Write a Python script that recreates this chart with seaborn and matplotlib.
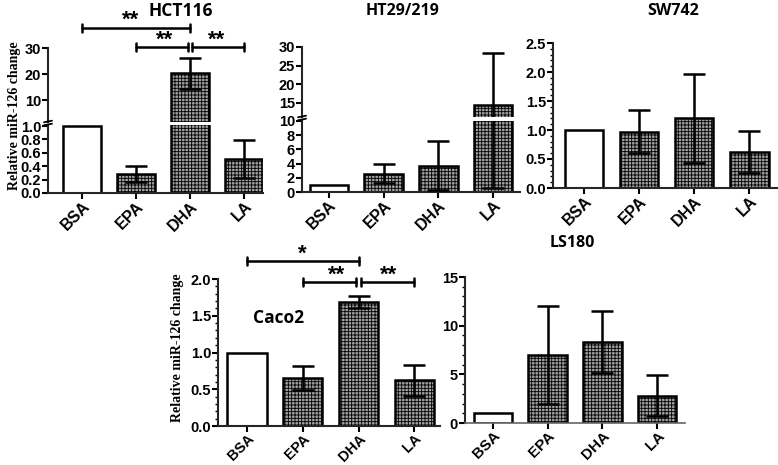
import matplotlib
matplotlib.use("Agg")
import matplotlib.pyplot as plt
import matplotlib.transforms as mtrans
from matplotlib.ticker import MultipleLocator, FixedLocator
import seaborn as sns
import pandas as pd
import numpy as np

# ---------------- data ----------------
groups = ["BSA", "EPA", "DHA", "LA"]

hct116_mean = [1.0, 0.29, 20.2, 0.51]
hct116_sd = [0.0, 0.12, 5.9, 0.28]

ht29_mean = [1.0, 2.6, 3.7, 14.5]
ht29_sd = [0.0, 1.3, 3.45, 13.9]

sw742_mean = [1.0, 0.97, 1.2, 0.62]
sw742_sd = [0.0, 0.37, 0.77, 0.37]

caco2_mean = [1.0, 0.65, 1.69, 0.62]
caco2_sd = [0.0, 0.16, 0.085, 0.21]

ls180_mean = [1.0, 7.0, 8.3, 2.8]
ls180_sd = [0.0, 5.0, 3.2, 2.1]

ylabel_text = "Relative miR-126 change"

# ---------------- style ----------------
sns.set_theme(style="ticks")
plt.rcParams["font.family"] = ["Liberation Sans", "DejaVu Sans"]
plt.rcParams["font.weight"] = "bold"
plt.rcParams["hatch.linewidth"] = 0.6
plt.rcParams["axes.linewidth"] = 1.5
plt.rcParams["text.color"] = "black"
plt.rcParams["xtick.color"] = "black"
plt.rcParams["ytick.color"] = "black"
plt.rcParams["xtick.labelcolor"] = "black"
plt.rcParams["ytick.labelcolor"] = "black"

W, H = 778, 465
fig = plt.figure(figsize=(W / 100, H / 100), dpi=100)


def rect(x0, y0, x1, y1):
    return [x0 / W, 1 - y1 / H, (x1 - x0) / W, (y1 - y0) / H]


def fy(ypix):
    return 1 - ypix / H


palette = {"BSA": "white", "EPA": "#a0a0a0", "DHA": "#a0a0a0", "LA": "#a0a0a0"}
tick_font = dict(family=["Liberation Sans", "DejaVu Sans"], weight="bold")


def draw_bars(ax, means, sds, xlim, ylim, show_x=True, xsize=11.5):
    df = pd.DataFrame({"group": groups, "value": means})
    sns.barplot(data=df, x="group", y="value", hue="group", order=groups,
                hue_order=groups, palette=palette, legend=False, ax=ax,
                edgecolor="black", linewidth=1.8, width=0.7, errorbar=None,
                saturation=1)
    for i, p in enumerate(ax.patches):
        if i > 0:
            p.set_hatch("+++++")
    idx = [i for i in range(len(groups)) if sds[i] > 0]
    ax.errorbar(x=idx, y=[means[i] for i in idx], yerr=[sds[i] for i in idx],
                fmt="none", ecolor="black", elinewidth=1.8, capsize=8,
                capthick=1.8, zorder=5)
    ax.set_xlim(*xlim)
    ax.set_ylim(*ylim)
    ax.set_xlabel("")
    ax.set_ylabel("")
    sns.despine(ax=ax)
    ax.tick_params(axis="y", direction="out", length=4, width=1.5,
                   labelsize=10.5, pad=1, colors="black")
    ax.tick_params(axis="y", which="minor", length=2, width=1.0)
    if show_x:
        ax.tick_params(axis="x", direction="out", length=4, width=1.5,
                       labelsize=xsize, pad=0, colors="black")
        ax.set_xticks(range(len(groups)))
        ax.set_xticklabels(groups, rotation=45, ha="right",
                           rotation_mode="anchor", fontdict=tick_font)
    else:
        ax.spines["bottom"].set_visible(False)
        ax.tick_params(axis="x", bottom=False, labelbottom=False)


def bold_yticks(ax, fmt=None):
    ticks = ax.get_yticks()
    lo, hi = ax.get_ylim()
    ax.set_yticks(ticks)
    labels = [fmt.format(v) if fmt else f"{v:g}" for v in ticks]
    ax.set_yticklabels(labels, fontdict=tick_font)
    ax.set_ylim(lo, hi)


def break_marks(ypix_list, xpix):
    for yp in ypix_list:
        fig.add_artist(plt.Line2D([(xpix - 4) / W, (xpix + 4) / W],
                                  [fy(yp + 0.8), fy(yp - 0.8)],
                                  color="black", lw=1.3))


def bracket(ax, x0, x1, ypix, tick=4):
    tr = mtrans.blended_transform_factory(ax.transData, fig.transFigure)
    kw = dict(color="black", lw=1.8, transform=tr, clip_on=False)
    fig.add_artist(plt.Line2D([x0, x1], [fy(ypix), fy(ypix)], **kw))
    fig.add_artist(plt.Line2D([x0, x0], [fy(ypix - tick), fy(ypix + tick)], **kw))
    fig.add_artist(plt.Line2D([x1, x1], [fy(ypix - tick), fy(ypix + tick)], **kw))


def stars(ax, x, ypix, s):
    tr = mtrans.blended_transform_factory(ax.transData, fig.transFigure)
    fig.text(x, fy(ypix), s, transform=tr, ha="center", va="center",
             fontsize=16, fontweight="bold")


title_kw = dict(family=["Open Sans", "DejaVu Sans"], fontweight="bold",
                fontsize=11.5, ha="center", va="center")
ylab_kw = dict(rotation=90, ha="center", va="center",
               family=["Liberation Serif", "DejaVu Serif"], fontweight="bold",
               fontsize=10)

# ---------------- HCT116 (broken axis) ----------------
ax1u = fig.add_axes(rect(48, 48, 263, 122))
ax1l = fig.add_axes(rect(48, 124.7, 263, 193))
draw_bars(ax1u, hct116_mean, hct116_sd, (-0.63, 3.35), (1.54, 30), show_x=False)
ax1u.yaxis.set_major_locator(FixedLocator([10, 20, 30]))
bold_yticks(ax1u)
draw_bars(ax1l, hct116_mean, hct116_sd, (-0.63, 3.35), (0, 1.02))
ax1l.yaxis.set_major_locator(FixedLocator([0, 0.2, 0.4, 0.6, 0.8, 1.0]))
bold_yticks(ax1l, "{:.1f}")
break_marks([121.5, 124.5], 48)
fig.text(181 / W, fy(11), "HCT116", **dict(title_kw, fontsize=12.5))
fig.text(15 / W, fy(116), ylabel_text, **ylab_kw)
bracket(ax1u, 0, 2, 28)
stars(ax1u, 0.9, 20, "**")
bracket(ax1u, 1, 1.96, 47)
bracket(ax1u, 2.04, 3, 47)
stars(ax1u, 1.52, 40, "**")
stars(ax1u, 2.5, 40, "**")

# ---------------- HT29/219 (broken axis) ----------------
ax2u = fig.add_axes(rect(302, 47, 520, 117))
ax2l = fig.add_axes(rect(302, 121, 520, 192))
draw_bars(ax2u, ht29_mean, ht29_sd, (-0.49, 3.49), (11.2, 30), show_x=False)
ax2u.yaxis.set_major_locator(FixedLocator([15, 20, 25, 30]))
bold_yticks(ax2u)
draw_bars(ax2l, ht29_mean, ht29_sd, (-0.49, 3.49), (0, 10))
ax2l.yaxis.set_major_locator(FixedLocator([0, 2, 4, 6, 8, 10]))
bold_yticks(ax2l)
break_marks([116.5, 119.5], 302)
fig.text(403 / W, fy(11), "HT29/219", **title_kw)

# ---------------- SW742 ----------------
ax3 = fig.add_axes(rect(553, 43, 778, 188))
draw_bars(ax3, sw742_mean, sw742_sd, (-0.56, 3.52), (0, 2.5))
ax3.yaxis.set_major_locator(MultipleLocator(0.5))
ax3.yaxis.set_minor_locator(MultipleLocator(0.1))
bold_yticks(ax3, "{:.1f}")
ax3.set_ylim(0, 2.5)
fig.text(673 / W, fy(11), "SW742", **title_kw)

# ---------------- Caco2 ----------------
ax4 = fig.add_axes(rect(218, 279, 440, 426))
draw_bars(ax4, caco2_mean, caco2_sd, (-0.52, 3.46), (0, 2.0), xsize=10.5)
ax4.yaxis.set_major_locator(MultipleLocator(0.5))
ax4.yaxis.set_minor_locator(MultipleLocator(0.1))
bold_yticks(ax4, "{:.1f}")
ax4.set_ylim(0, 2.0)
fig.text(278 / W, fy(318), "Caco2", **dict(title_kw, fontsize=12.5))
fig.text(178 / W, fy(348), ylabel_text, **ylab_kw)
bracket(ax4, 0, 2, 261)
stars(ax4, 1.0, 254, "*")
bracket(ax4, 1, 1.96, 282)
bracket(ax4, 2.04, 3, 282)
stars(ax4, 1.6, 275, "**")
stars(ax4, 2.53, 275, "**")

# ---------------- LS180 ----------------
ax5 = fig.add_axes(rect(465, 277, 685, 423))
draw_bars(ax5, ls180_mean, ls180_sd, (-0.51, 3.51), (0, 15), xsize=11)
ax5.yaxis.set_major_locator(MultipleLocator(5))
ax5.yaxis.set_minor_locator(MultipleLocator(1))
bold_yticks(ax5)
ax5.set_ylim(0, 15)
ax5.spines["bottom"].set_color("#666666")
ax5.spines["bottom"].set_linewidth(1.2)
fig.text(572 / W, fy(243), "LS180", **title_kw)

fig.savefig("out.png", dpi=100)
